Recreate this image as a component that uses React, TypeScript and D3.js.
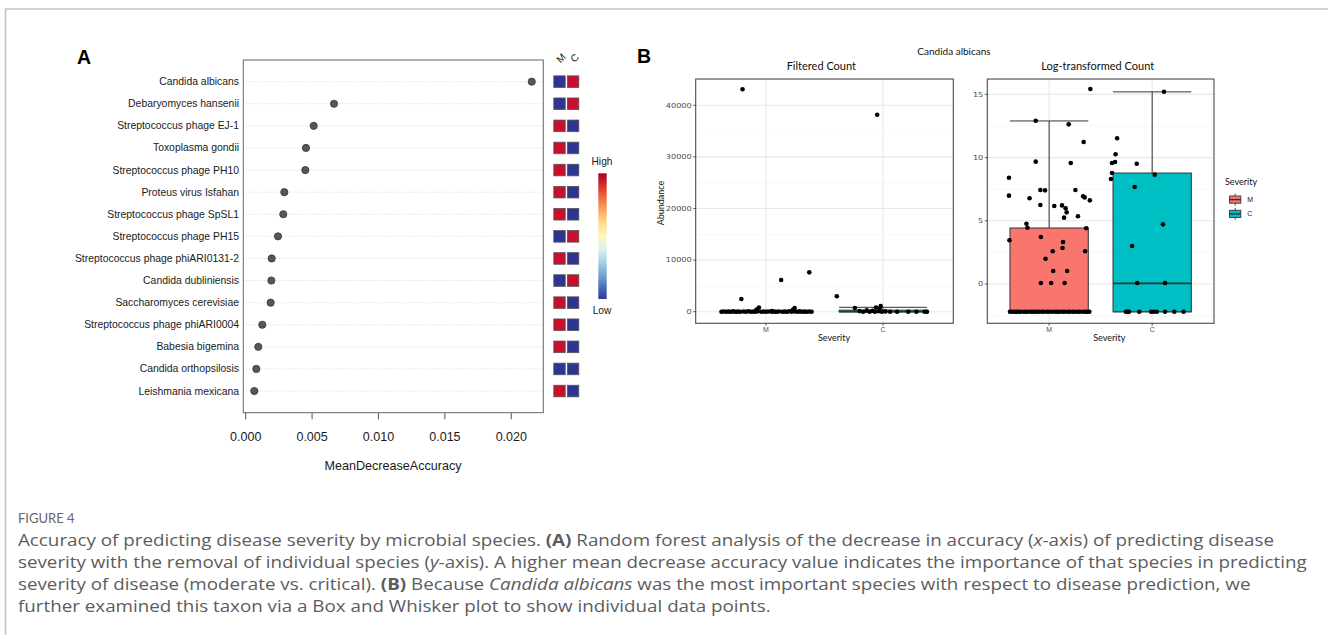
import React, { useEffect } from 'react';
import * as d3 from 'd3';

// ---------------- Panel A data ----------------
const species = [
  'Candida albicans',
  'Debaryomyces hansenii',
  'Streptococcus phage EJ-1',
  'Toxoplasma gondii',
  'Streptococcus phage PH10',
  'Proteus virus Isfahan',
  'Streptococcus phage SpSL1',
  'Streptococcus phage PH15',
  'Streptococcus phage phiARI0131-2',
  'Candida dubliniensis',
  'Saccharomyces cerevisiae',
  'Streptococcus phage phiARI0004',
  'Babesia bigemina',
  'Candida orthopsilosis',
  'Leishmania mexicana',
];
const meanDecreaseAccuracy = [
  0.02154, 0.00665, 0.00512, 0.00454, 0.00449, 0.00291, 0.00283, 0.00243,
  0.00196, 0.00193, 0.00188, 0.00125, 0.00095, 0.0008, 0.00065,
];
// 1 = High, 0 = Low
const heatM = [0, 0, 1, 1, 1, 1, 1, 0, 1, 0, 1, 1, 1, 0, 1];
const heatC = [1, 1, 0, 0, 0, 0, 0, 1, 0, 1, 0, 0, 0, 0, 0];
const heatColumns = ['M', 'C'];
const xTicksA = [0, 0.005, 0.01, 0.015, 0.02];

// ---------------- Panel B data ----------------
const severity = ['M', 'C'];
// [jitter offset (in category steps), abundance]
const filteredM: [number, number][] = [
  [-0.2, 43100], [-0.21, 2460], [0.13, 6140], [0.37, 7630], [-0.06, 800], [0.245, 700],
  [0.23, 350], [-0.08, 420], [0.05, 150],
  [-0.38, 0], [-0.36, 40], [-0.34, 0], [-0.32, 20], [-0.3, 0], [-0.28, 60], [-0.26, 0],
  [-0.24, 10], [-0.22, 0], [-0.19, 30], [-0.17, 0], [-0.15, 80], [-0.13, 0], [-0.11, 20],
  [-0.09, 0], [-0.07, 110], [-0.04, 0], [-0.02, 30], [0.0, 0], [0.02, 50], [0.05, 0],
  [0.07, 10], [0.09, 0], [0.11, 40], [0.14, 0], [0.16, 20], [0.18, 0], [0.2, 90],
  [0.22, 0], [0.25, 30], [0.27, 0], [0.29, 60], [0.31, 0], [0.33, 20], [0.35, 0],
  [0.37, 40], [0.39, 0],
];
const filteredC: [number, number][] = [
  [-0.05, 38180], [-0.395, 2980], [-0.24, 700], [-0.02, 1100], [-0.06, 800], [-0.03, 600],
  [-0.2, 120], [-0.17, 0], [-0.14, 250], [-0.115, 0], [-0.09, 180], [-0.07, 0], [-0.04, 90],
  [-0.01, 0], [0.02, 60], [0.06, 0], [0.12, 0], [0.215, 0], [0.285, 0], [0.355, 0], [0.375, 0],
];
// [jitter offset, log-transformed count]
const logM: [number, number][] = [
  [-0.39, 8.41], [-0.39, 6.99], [-0.385, 3.46], [-0.22, 4.77], [-0.21, 4.45], [-0.19, 6.78],
  [-0.13, 12.92], [-0.13, 9.68], [-0.085, 7.44], [-0.04, 7.41], [-0.085, 6.25], [-0.08, 3.72],
  [-0.08, 0.08], [-0.035, 2.0], [0.035, 2.59], [0.04, 1.03], [0.02, 0.08], [0.05, 6.17],
  [0.125, 6.22], [0.13, 2.85], [0.135, 3.32], [0.15, 0.08], [0.16, 5.99], [0.17, 5.67],
  [0.145, 5.25], [0.19, 12.63], [0.21, 9.57], [0.175, 1.03], [0.255, 7.44], [0.28, 5.36],
  [0.33, 6.94], [0.345, 6.85], [0.335, 11.23], [0.4, 15.43], [0.395, 6.62], [0.36, 4.41],
  [0.35, 2.59],
  [-0.38, -2.2], [-0.36, -2.2], [-0.34, -2.2], [-0.32, -2.2], [-0.3, -2.2], [-0.28, -2.2],
  [-0.25, -2.2], [-0.23, -2.2], [-0.21, -2.2], [-0.18, -2.2], [-0.16, -2.2], [-0.14, -2.2],
  [-0.12, -2.2], [-0.1, -2.2], [-0.07, -2.2], [-0.05, -2.2], [-0.02, -2.2], [0.0, -2.2],
  [0.03, -2.2], [0.06, -2.2], [0.08, -2.2], [0.1, -2.2], [0.13, -2.2], [0.15, -2.2],
  [0.18, -2.2], [0.2, -2.2], [0.23, -2.2], [0.25, -2.2], [0.28, -2.2], [0.3, -2.2],
  [0.33, -2.2], [0.35, -2.2], [0.37, -2.2], [0.39, -2.2],
];
const logC: [number, number][] = [
  [-0.4, 8.31], [-0.39, 8.78], [-0.39, 9.57], [-0.36, 9.65], [-0.355, 10.26], [-0.34, 11.53],
  [-0.15, 9.52], [-0.17, 7.67], [-0.195, 3.01], [-0.145, 0.08], [0.025, 8.65], [0.105, 4.72],
  [0.125, 0.08], [0.115, 15.21],
  [-0.255, -2.2], [-0.24, -2.2], [-0.225, -2.2], [-0.125, -2.2], [-0.01, -2.2], [0.015, -2.2],
  [0.045, -2.2], [0.125, -2.2], [0.215, -2.2], [0.305, -2.2],
];
// box stats: [lowerWhisker, q1, median, q3, upperWhisker]
const filteredBoxM = [0, 0, 0, 80, 200];
const filteredBoxC = [0, 0, 0, 300, 850];
const logBoxM = [-2.2, -2.2, -2.2, 4.43, 12.9];
const logBoxC = [-2.2, -2.2, 0.05, 8.78, 15.2];
const filteredTicks = [0, 10000, 20000, 30000, 40000];
const filteredMinor = [5000, 15000, 25000, 35000];
const logTicks = [0, 5, 10, 15];
const logMinor = [-2.5, 2.5, 7.5, 12.5];

const FONT_A = "'Liberation Sans', Arial, sans-serif";
const FONT_B = "Lato, 'Open Sans', sans-serif";
const FONT_CAP = "'Open Sans', Lato, sans-serif";
const RED = '#c8102e';
const BLUE = '#2c3591';
const FILL_M = '#F8766D';
const FILL_C = '#00BFC4';

type BoxProps = {
  cx: number; w: number; stats: number[]; y: d3.ScaleLinear<number, number>; fill: string;
};
function Box({ cx, w, stats, y, fill }: BoxProps) {
  const [lo, q1, med, q3, hi] = stats;
  return (
    <g stroke="#333" strokeWidth={1}>
      <line x1={cx} x2={cx} y1={y(hi)} y2={y(q3)} />
      <line x1={cx} x2={cx} y1={y(q1)} y2={y(lo)} />
      <line x1={cx - w / 2} x2={cx + w / 2} y1={y(hi)} y2={y(hi)} />
      <line x1={cx - w / 2} x2={cx + w / 2} y1={y(lo)} y2={y(lo)} />
      <rect x={cx - w / 2} width={w} y={y(q3)} height={Math.max(0.5, y(q1) - y(q3))} fill={fill} />
      <line x1={cx - w / 2} x2={cx + w / 2} y1={y(med)} y2={y(med)} strokeWidth={1.8} />
    </g>
  );
}

type PanelProps = {
  left: number; right: number; top: number; bottom: number;
  y: d3.ScaleLinear<number, number>; ticks: number[]; minor: number[];
  x: d3.ScalePoint<string>; title: string; titleDx: number; children?: React.ReactNode;
};
function Panel({ left, right, top, bottom, y, ticks, minor, x, title, titleDx, children }: PanelProps) {
  return (
    <g>
      <rect x={left} y={top} width={right - left} height={bottom - top} fill="#fff" />
      {minor.map((t) => (
        <line key={'mi' + t} x1={left} x2={right} y1={y(t)} y2={y(t)} stroke="#f2f2f2" strokeWidth={0.6} />
      ))}
      {ticks.map((t) => (
        <line key={'ma' + t} x1={left} x2={right} y1={y(t)} y2={y(t)} stroke="#e8e8e8" strokeWidth={1.1} />
      ))}
      {severity.map((s) => (
        <line key={'v' + s} x1={x(s)!} x2={x(s)!} y1={top} y2={bottom} stroke="#e8e8e8" strokeWidth={1.1} />
      ))}
      {children}
      <rect x={left} y={top} width={right - left} height={bottom - top} fill="none" stroke="#4a4a4a" strokeWidth={1.1} />
      {ticks.map((t) => (
        <g key={'t' + t}>
          <line x1={left - 2.5} x2={left} y1={y(t)} y2={y(t)} stroke="#333" strokeWidth={0.8} />
          <text
            transform={`translate(${left - 4},${y(t)}) scale(1.2,1)`}
            textAnchor="end" dominantBaseline="central"
            fontFamily="'DejaVu Sans', sans-serif" fontSize={6.8} fill="#4d4d4d"
          >{t}</text>
        </g>
      ))}
      {severity.map((s) => (
        <g key={'xt' + s}>
          <line x1={x(s)!} x2={x(s)!} y1={bottom} y2={bottom + 2.5} stroke="#333" strokeWidth={0.8} />
          <text x={x(s)!} y={bottom + 6.3} textAnchor="middle" dominantBaseline="central"
            fontFamily={FONT_A} fontSize={7} fill="#4d4d4d">{s}</text>
        </g>
      ))}
      <text x={(left + right) / 2 + titleDx} y={bottom + 14.5} textAnchor="middle" dominantBaseline="central"
        fontFamily={FONT_B} fontSize={9} fill="#111">Severity</text>
      <text x={(left + right) / 2 - titleDx / 3} y={top - 14} textAnchor="middle" dominantBaseline="central"
        fontFamily={FONT_B} fontSize={11} fill="#111">{title}</text>
    </g>
  );
}

export default function App() {
  useEffect(() => {
    document.body.style.margin = '0';
    document.body.style.overflow = 'hidden';
  }, []);

  // ---- Panel A scales ----
  const xA = d3.scaleLinear().domain([-0.00018, 0.02241]).range([243.3, 543.3]);
  const yA = d3.scalePoint<string>().domain(species).range([60, 412.7]).padding(0.98);
  const colA = d3.scaleBand<string>().domain(heatColumns).range([553.8, 578.8]).paddingInner(0.16);
  const gradStops = d3.range(0, 1.0001, 0.1);

  // ---- Panel B scales ----
  const fL = 695.7, fR = 953.3, pT = 79, pB = 323.3;
  const lL = 987.3, lR = 1214;
  const xF = d3.scalePoint<string>().domain(severity).range([fL, fR]).padding(0.6);
  const yF = d3.scaleLinear().domain([-2248, 45097]).range([pB, pT]);
  const xL = d3.scalePoint<string>().domain(severity).range([lL, lR]).padding(0.6);
  const yL = d3.scaleLinear().domain([-3.11, 16.22]).range([pB, pT]);
  const stepF = xF.step();
  const stepL = xL.step();

  const dot = (key: string, cx: number, cy: number) => (
    <circle key={key} cx={cx} cy={cy} r={2.3} fill="#000" />
  );

  const legendKey = (yc: number, fill: string) => (
    <g stroke="#333" strokeWidth={0.9}>
      <line x1={1235.2} x2={1235.2} y1={yc - 6} y2={yc + 6} />
      <rect x={1229.6} y={yc - 3.6} width={11.2} height={7.2} fill={fill} />
      <line x1={1229.6} x2={1240.8} y1={yc} y2={yc} strokeWidth={1.4} />
    </g>
  );

  const capLine = (y: number, content: React.ReactNode) => (
    <text transform={`translate(18,${y}) scale(1.16,1)`} fontSize={16.2}>{content}</text>
  );

  return (
    <svg width={1328} height={635} style={{ position: 'absolute', left: 0, top: 0, display: 'block', background: '#fff' }}>
      <defs>
        <linearGradient id="rdylbu" x1="0" y1="0" x2="0" y2="1">
          {gradStops.map((t) => (
            <stop key={t} offset={`${t * 100}%`} stopColor={d3.interpolateRdYlBu(t)} />
          ))}
        </linearGradient>
      </defs>
      <rect width={1328} height={635} fill="#fff" />
      {/* figure frame */}
      <path d="M5.5,640 V9 H1330" fill="none" stroke="#c4c4c4" strokeWidth={1.6} />

      {/* ================= Panel A ================= */}
      <text x={77} y={64} fontFamily={FONT_A} fontWeight="bold" fontSize={19.5} fill="#000">A</text>
      {species.map((s, i) => (
        <g key={s}>
          <line x1={243.3} x2={543.3} y1={yA(s)!} y2={yA(s)!} stroke="#c9c9c9" strokeWidth={0.8} strokeDasharray="1,2" />
          <text x={239} y={yA(s)!} textAnchor="end" dominantBaseline="central" fontFamily={FONT_A} fontSize={10.4} fill="#1a1a1a">{s}</text>
          <circle cx={xA(meanDecreaseAccuracy[i])} cy={yA(s)!} r={3.6} fill="#575757" stroke="#333" strokeWidth={0.8} />
          <rect x={colA('M')!} y={yA(s)! - 5.8} width={colA.bandwidth()} height={11.6} fill={heatM[i] ? RED : BLUE} stroke="#555" strokeWidth={0.8} />
          <rect x={colA('C')!} y={yA(s)! - 5.8} width={colA.bandwidth()} height={11.6} fill={heatC[i] ? RED : BLUE} stroke="#555" strokeWidth={0.8} />
        </g>
      ))}
      <rect x={243.3} y={60} width={300} height={352.7} fill="none" stroke="#666" strokeWidth={1} />
      {xTicksA.map((t) => (
        <g key={t}>
          <line x1={xA(t)} x2={xA(t)} y1={412.7} y2={419.3} stroke="#555" strokeWidth={1} />
          <text x={xA(t)} y={436.7} textAnchor="middle" dominantBaseline="central" fontFamily={FONT_A} fontSize={12.5} fill="#1a1a1a">{d3.format('.3f')(t)}</text>
        </g>
      ))}
      <text x={393} y={466} textAnchor="middle" dominantBaseline="central" fontFamily={FONT_A} fontSize={12.6} fill="#1a1a1a">MeanDecreaseAccuracy</text>
      {heatColumns.map((c) => (
        <text key={c} transform={`translate(${colA(c)! + colA.bandwidth() / 2 + 1.5},${58}) rotate(-45)`}
          textAnchor="middle" dominantBaseline="central" fontFamily={FONT_A} fontSize={10} fill="#1a1a1a">{c}</text>
      ))}
      <text x={602} y={161.7} textAnchor="middle" dominantBaseline="central" fontFamily={FONT_A} fontSize={10.2} fill="#1a1a1a">High</text>
      <rect x={598.3} y={173.3} width={8.4} height={125.7} fill="url(#rdylbu)" />
      <text x={602} y={310} textAnchor="middle" dominantBaseline="central" fontFamily={FONT_A} fontSize={10.2} fill="#1a1a1a">Low</text>

      {/* ================= Panel B ================= */}
      <text x={637} y={63} fontFamily={FONT_A} fontWeight="bold" fontSize={19.5} fill="#000">B</text>
      <text x={954} y={51} textAnchor="middle" dominantBaseline="central" fontFamily={FONT_B} fontSize={10} fill="#111">Candida albicans</text>
      <text transform={`translate(660.5,203) rotate(-90)`} textAnchor="middle" dominantBaseline="central" fontFamily={FONT_B} fontSize={9} fill="#111">Abundance</text>

      <Panel left={fL} right={fR} top={pT} bottom={pB} y={yF} ticks={filteredTicks} minor={filteredMinor} x={xF} title="Filtered Count" titleDx={9.5}>
        <Box cx={xF('M')!} w={0.75 * stepF} stats={filteredBoxM} y={yF} fill={FILL_M} />
        <Box cx={xF('C')!} w={0.75 * stepF} stats={filteredBoxC} y={yF} fill={FILL_C} />
        {filteredM.map(([o, v], i) => dot('fm' + i, xF('M')! + o * stepF, yF(v)))}
        {filteredC.map(([o, v], i) => dot('fc' + i, xF('C')! + o * stepF, yF(v)))}
      </Panel>

      <Panel left={lL} right={lR} top={pT} bottom={pB} y={yL} ticks={logTicks} minor={logMinor} x={xL} title="Log-transformed Count" titleDx={8.6}>
        <Box cx={xL('M')!} w={0.76 * stepL} stats={logBoxM} y={yL} fill={FILL_M} />
        <Box cx={xL('C')!} w={0.76 * stepL} stats={logBoxC} y={yL} fill={FILL_C} />
        {logM.map(([o, v], i) => dot('lm' + i, xL('M')! + o * stepL, yL(v)))}
        {logC.map(([o, v], i) => dot('lc' + i, xL('C')! + o * stepL, yL(v)))}
      </Panel>

      {/* legend */}
      <text x={1225} y={181.7} dominantBaseline="central" fontFamily={FONT_B} fontSize={9} fill="#111">Severity</text>
      {legendKey(199.6, FILL_M)}
      {legendKey(213.9, FILL_C)}
      <text x={1247.3} y={199.6} dominantBaseline="central" fontFamily={FONT_A} fontSize={7} fill="#222">M</text>
      <text x={1247.3} y={213.9} dominantBaseline="central" fontFamily={FONT_A} fontSize={7} fill="#222">C</text>

      {/* ================= Caption ================= */}
      <g fontFamily={FONT_CAP} fill="#5c5c5c">
        <text x={18} y={523} fontSize={13} fill="#666" fontFamily={FONT_B}>FIGURE 4</text>
        {capLine(546, <>Accuracy of predicting disease severity by microbial species. <tspan fontWeight="bold">(A)</tspan> Random forest analysis of the decrease in accuracy (<tspan fontStyle="italic">x</tspan>-axis) of predicting disease</>)}
        {capLine(568, <>severity with the removal of individual species (<tspan fontStyle="italic">y</tspan>-axis). A higher mean decrease accuracy value indicates the importance of that species in predicting</>)}
        {capLine(590, <>severity of disease (moderate vs. critical). <tspan fontWeight="bold">(B)</tspan> Because <tspan fontStyle="italic">Candida albicans</tspan> was the most important species with respect to disease prediction, we</>)}
        {capLine(612, <>further examined this taxon via a Box and Whisker plot to show individual data points.</>)}
      </g>
    </svg>
  );
}
